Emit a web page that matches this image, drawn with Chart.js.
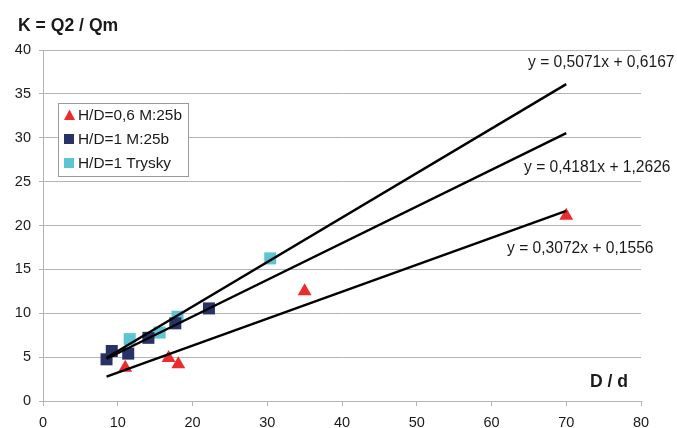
<!DOCTYPE html>
<html>
<head>
<meta charset="utf-8">
<script src="https://cdn.jsdelivr.net/npm/chart.js@4/dist/chart.umd.min.js"></script>
<style>
  html, body { margin: 0; padding: 0; background: #ffffff; }
  #wrap { width: 677px; height: 428px; position: relative; }
</style>
</head>
<body>
<div id="wrap"><canvas id="c" width="677" height="428"></canvas></div>
<script>
// Measured points: D/d against K = Q2/Qm
const seriesNames = ['H/D=0,6 M:25b', 'H/D=1 M:25b', 'H/D=1 Trysky'];
const seriesColors = ['#ec2b2b', '#283266', '#5cc5d1'];
const seriesStyles = ['triangle', 'rect', 'rect'];

const triX = [11.0, 16.8, 18.1, 35.0, 70.0];
const triY = [3.8, 4.9, 4.2, 12.5, 21.1];

const navyX = [8.5, 9.2, 11.4, 14.1, 17.7, 22.2];
const navyY = [4.75, 5.7, 5.4, 7.2, 8.85, 10.55];

const cyanX = [11.6, 15.6, 18.0, 30.4];
const cyanY = [7.05, 7.8, 9.6, 16.25];

// Linear trend lines y = a·x + b
const trendSlopes = [0.5071, 0.4181, 0.3072];
const trendIntercepts = [0.6167, 1.2626, 0.1556];
const trendLabels = ['y = 0,5071x + 0,6167', 'y = 0,4181x + 1,2626', 'y = 0,3072x + 0,1556'];
const trendRange = [8.5, 70];

const xTicks = [0, 10, 20, 30, 40, 50, 60, 70, 80];
const yTicks = [0, 5, 10, 15, 20, 25, 30, 35, 40];

const FONT = '"Liberation Sans", Arial, sans-serif';
const TEXT = '#1a1a1a';
const GRID = '#b4b4b4';

function pts(xs, ys) { return xs.map((x, i) => ({ x: x, y: ys[i] })); }

const scatterSets = [pts(triX, triY), pts(navyX, navyY), pts(cyanX, cyanY)].map((d, i) => ({
  type: 'scatter',
  label: seriesNames[i],
  data: d,
  pointStyle: seriesStyles[i],
  pointRadius: seriesStyles[i] === 'triangle' ? 8 : 8.5,
  pointHoverRadius: 8.5,
  backgroundColor: seriesColors[i],
  borderColor: seriesColors[i],
  borderWidth: 0,
  order: 2
}));

const trendSets = trendSlopes.map((a, i) => ({
  type: 'line',
  label: trendLabels[i],
  data: trendRange.map(x => ({ x: x, y: a * x + trendIntercepts[i] })),
  borderColor: '#000000',
  borderWidth: 2.4,
  pointRadius: 0,
  fill: false,
  order: 1
}));

// Free-standing texts: axis titles, trend equations, and the boxed legend
const annotations = {
  id: 'annotations',
  afterDraw(chart) {
    const ctx = chart.ctx;
    ctx.save();
    ctx.fillStyle = TEXT;
    ctx.textBaseline = 'middle';

    ctx.font = 'bold 17.6px ' + FONT;
    ctx.textAlign = 'left';
    ctx.fillText('K = Q2 / Qm', 18, 26);
    ctx.fillText('D / d', 590, 382);

    ctx.font = '15.6px ' + FONT;
    const eqPos = [[528, 63], [524, 168], [507, 249]];
    trendLabels.forEach((t, i) => ctx.fillText(t, eqPos[i][0], eqPos[i][1]));

    // legend box
    const bx = 58, by = 103, bw = 130, bh = 73;
    ctx.fillStyle = '#ffffff';
    ctx.fillRect(bx, by, bw, bh);
    ctx.strokeStyle = '#9a9a9a';
    ctx.lineWidth = 1;
    ctx.strokeRect(bx + 0.5, by + 0.5, bw, bh);
    seriesNames.forEach((name, i) => {
      const cy = 115 + i * 24;
      ctx.fillStyle = seriesColors[i];
      if (seriesStyles[i] === 'triangle') {
        ctx.beginPath();
        ctx.moveTo(69.5, cy - 5.5);
        ctx.lineTo(75, cy + 5);
        ctx.lineTo(64, cy + 5);
        ctx.closePath();
        ctx.fill();
      } else {
        ctx.fillRect(64, cy - 5, 10, 10);
      }
      ctx.fillStyle = TEXT;
      ctx.font = '15.4px ' + FONT;
      ctx.fillText(name, 78, cy + 1);
    });
    ctx.restore();
  }
};

new Chart(document.getElementById('c'), {
  type: 'scatter',
  data: { datasets: [...trendSets, ...scatterSets] },
  options: {
    responsive: false,
    animation: false,
    devicePixelRatio: 1,
    layout: { padding: { top: 50, right: 36, left: 0, bottom: 0 } },
    plugins: {
      legend: { display: false },
      tooltip: { enabled: false },
      title: { display: false }
    },
    scales: {
      x: {
        type: 'linear',
        min: 0, max: 80,
        afterFit(s) { s.height = 27; },
        afterBuildTicks(s) { s.ticks = xTicks.map(v => ({ value: v })); },
        ticks: { color: TEXT, font: { family: FONT, size: 14.5 }, padding: 8, maxRotation: 0 },
        grid: { drawOnChartArea: false, color: GRID, tickLength: 5 },
        border: { display: true, color: GRID, width: 1 }
      },
      y: {
        type: 'linear',
        min: 0, max: 40,
        afterFit(s) { s.width = 43; },
        afterBuildTicks(s) { s.ticks = yTicks.map(v => ({ value: v })); },
        ticks: { color: TEXT, font: { family: FONT, size: 14.5 }, padding: 8 },
        grid: { drawOnChartArea: true, color: GRID, tickLength: 4 },
        border: { display: true, color: GRID, width: 1 }
      }
    }
  },
  plugins: [annotations]
});
</script>
</body>
</html>
